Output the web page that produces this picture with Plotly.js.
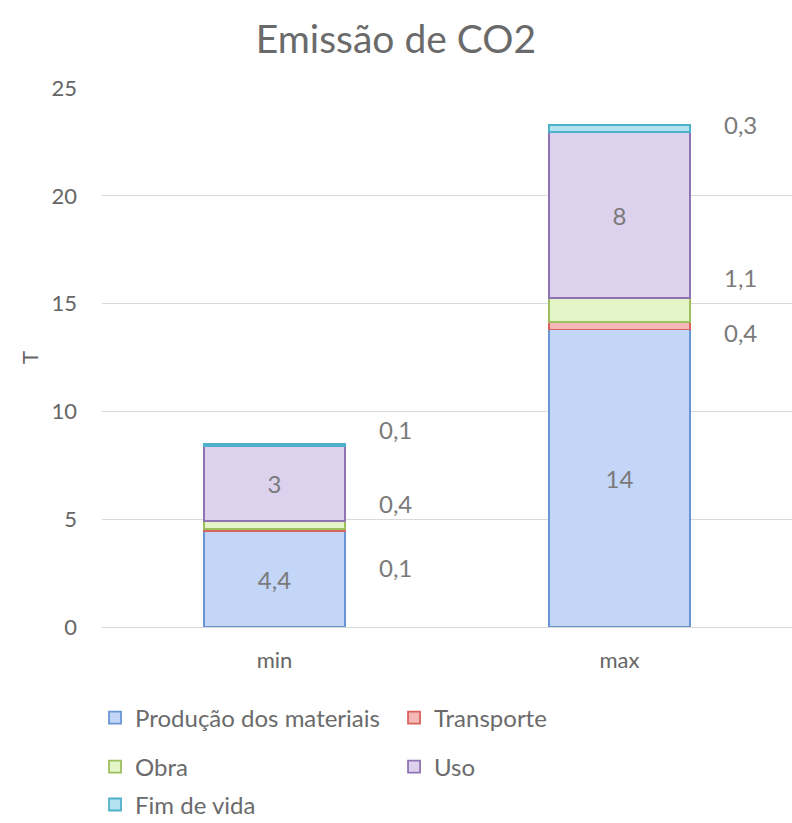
<!DOCTYPE html>
<html><head><meta charset="utf-8">
<script src="https://cdn.plot.ly/plotly-3.0.1.min.js"></script>
<style>body{margin:0;background:#fff}#chart{width:792px;height:823px}</style>
</head><body><div id="chart"></div>
<script>
const categories = ["min", "max"];
const seriesNames = ["Produção dos materiais", "Transporte", "Obra", "Uso", "Fim de vida"];
const producao = [4.45, 13.8];
const transporte = [0.1, 0.35];
const obra = [0.35, 1.1];
const uso = [3.5, 7.7];
const fimDeVida = [0.1, 0.35];
const producaoLabels = ["4,4", "14"];
const transporteLabels = ["0,1", "0,4"];
const obraLabels = ["0,4", "1,1"];
const usoLabels = ["3", "8"];
const fimLabels = ["0,1", "0,3"];
const yTicks = [0, 5, 10, 15, 20, 25];

const FONT = "Lato, 'Open Sans', sans-serif";
const fills = ["#c3d6f8", "#f4b9b7", "#e4f5c8", "#ddd2ee", "#b4e3f0"];
const lines = ["#6a95d4", "#d9625e", "#9dbf5e", "#8f74b3", "#4fb0cb"];
const values = [producao, transporte, obra, uso, fimDeVida];
const legendIds = ["legend", "legend", "legend2", "legend2", "legend3"];
const insideText = [producaoLabels, null, null, usoLabels, null];

const traces = values.map((v, i) => ({
  type: "bar",
  name: seriesNames[i],
  x: categories,
  y: v,
  legend: legendIds[i],
  marker: {color: fills[i], line: {color: lines[i], width: 1.8}},
  text: insideText[i] ? insideText[i] : categories.map(() => ""),
  textposition: insideText[i] ? "inside" : "none",
  insidetextanchor: "middle",
  textfont: {family: FONT, size: 24, color: "#7a7a7a"},
  hoverinfo: "none"
}));

const sideLabels = [
  {x: 0, y: 2.78, text: transporteLabels[0]},
  {x: 0, y: 5.75, text: obraLabels[0]},
  {x: 0, y: 9.18, text: fimLabels[0]},
  {x: 1, y: 13.64, text: transporteLabels[1]},
  {x: 1, y: 16.19, text: obraLabels[1]},
  {x: 1, y: 23.33, text: fimLabels[1]}
];
const annotations = sideLabels.map(a => ({
  x: a.x + 0.35, y: a.y, xref: "x", yref: "y", text: a.text, showarrow: false,
  font: {family: FONT, size: 24, color: "#7a7a7a"}
}));

const legendBase = {
  orientation: "h", xanchor: "left", yanchor: "middle", x: 0.12, xref: "container", yref: "container",
  entrywidth: 254, entrywidthmode: "pixels",
  font: {family: FONT, size: 24, color: "#6b6b6b"},
  traceorder: "normal", bgcolor: "rgba(0,0,0,0)"
};

const layout = {
  width: 792, height: 823,
  margin: {l: 102, r: 0, t: 88, b: 196},
  paper_bgcolor: "#ffffff", plot_bgcolor: "#ffffff",
  barmode: "stack", bargap: 0.59,
  font: {family: FONT, color: "#666666"},
  title: {text: "Emissão de CO2", x: 0.5, xanchor: "center", y: 0.952, yanchor: "middle",
          font: {size: 39, color: "#6a6a6a", family: FONT}},
  xaxis: {type: "category", range: [-0.5, 1.5], showgrid: false, zeroline: false, showline: false,
          ticks: "", tickfont: {size: 22, color: "#666666"}, ticklabelstandoff: 18},
  yaxis: {range: [0, 25], tickvals: yTicks, showgrid: true, gridcolor: "#d9d9d9", gridwidth: 1,
          zeroline: true, zerolinecolor: "#d9d9d9", zerolinewidth: 1, showline: false, ticks: "",
          tickfont: {size: 22, color: "#666666"}, ticklabelstandoff: 24,
          title: {text: "T", font: {size: 22, color: "#666666"}, standoff: 6}},
  showlegend: true,
  legend: Object.assign({}, legendBase, {y: 0.1276}),
  legend2: Object.assign({}, legendBase, {y: 0.068}),
  legend3: Object.assign({}, legendBase, {y: 0.022}),
  annotations: annotations
};

Plotly.newPlot("chart", traces, layout, {displayModeBar: false, staticPlot: true});
</script></body></html>
